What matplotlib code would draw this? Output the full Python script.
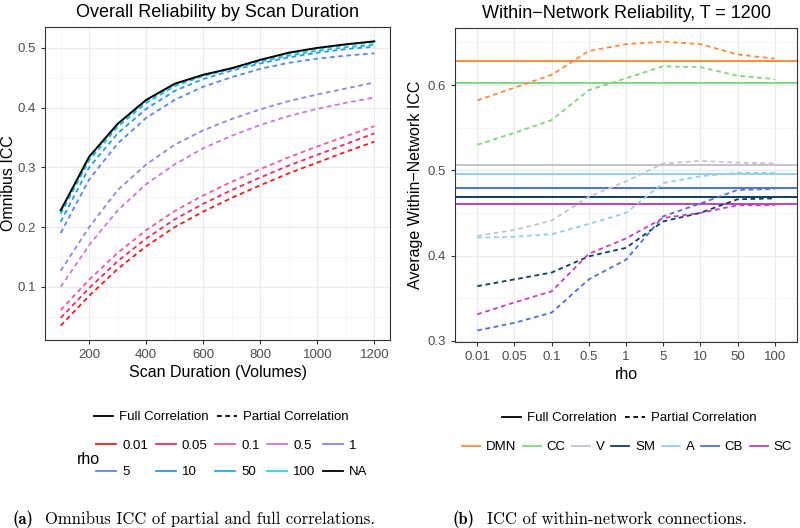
import matplotlib
matplotlib.use("Agg")
import matplotlib.pyplot as plt
from matplotlib.lines import Line2D
import numpy as np

plt.rcParams['font.family'] = ['Liberation Sans', 'DejaVu Sans']

# ---- left panel data: omnibus ICC by scan duration ----
volumes = [100, 200, 300, 400, 500, 600, 700, 800, 900, 1000, 1100, 1200]
rho_levels = ['0.01', '0.05', '0.1', '0.5', '1', '5', '10', '50', '100', 'NA']
rho_colors = ['#ee1c1c', '#ee2a5c', '#ee5a9e', '#cc77dd', '#9a80e6',
              '#5a86ee', '#2a95ee', '#1ab4dc', '#1cdcdc', '#000000']
icc_001 = [0.035, 0.085, 0.130, 0.168, 0.200, 0.226, 0.249, 0.270, 0.290, 0.308, 0.326, 0.343]
icc_005 = [0.048, 0.098, 0.143, 0.181, 0.213, 0.239, 0.262, 0.283, 0.303, 0.321, 0.339, 0.357]
icc_01 = [0.061, 0.112, 0.157, 0.195, 0.227, 0.253, 0.276, 0.297, 0.317, 0.335, 0.352, 0.369]
icc_05 = [0.100, 0.170, 0.228, 0.272, 0.305, 0.332, 0.353, 0.371, 0.386, 0.398, 0.408, 0.417]
icc_1 = [0.127, 0.200, 0.262, 0.305, 0.338, 0.362, 0.381, 0.397, 0.411, 0.422, 0.432, 0.442]
icc_5 = [0.190, 0.280, 0.340, 0.383, 0.413, 0.435, 0.451, 0.465, 0.475, 0.482, 0.487, 0.491]
icc_10 = [0.209, 0.300, 0.357, 0.398, 0.428, 0.448, 0.462, 0.474, 0.484, 0.492, 0.498, 0.502]
icc_50 = [0.222, 0.312, 0.368, 0.408, 0.436, 0.453, 0.465, 0.477, 0.487, 0.495, 0.501, 0.505]
icc_100 = [0.226, 0.316, 0.372, 0.411, 0.438, 0.454, 0.466, 0.479, 0.490, 0.498, 0.505, 0.509]
icc_full = [0.228, 0.318, 0.373, 0.413, 0.440, 0.455, 0.466, 0.480, 0.492, 0.500, 0.506, 0.511]
partial_series = [icc_001, icc_005, icc_01, icc_05, icc_1, icc_5, icc_10, icc_50, icc_100]

# ---- right panel data: within-network ICC, T = 1200 ----
rho_ticks = ['0.01', '0.05', '0.1', '0.5', '1', '5', '10', '50', '100']
networks = ['DMN', 'CC', 'V', 'SM', 'A', 'CB', 'SC']
net_colors = ['#ff8a3d', '#7fd67f', '#c9bfcf', '#0f3d66', '#8fd0f5', '#4d6fe0', '#c43fc0']
full_icc = [0.628, 0.602, 0.506, 0.469, 0.496, 0.479, 0.461]
dmn = [0.582, 0.597, 0.612, 0.640, 0.648, 0.651, 0.648, 0.636, 0.631]
cc = [0.530, 0.544, 0.559, 0.594, 0.608, 0.622, 0.621, 0.611, 0.607]
v = [0.423, 0.430, 0.441, 0.469, 0.487, 0.508, 0.511, 0.509, 0.508]
sm = [0.364, 0.372, 0.380, 0.399, 0.409, 0.440, 0.450, 0.466, 0.467]
a = [0.421, 0.422, 0.425, 0.437, 0.450, 0.485, 0.493, 0.497, 0.497]
cb = [0.312, 0.321, 0.333, 0.372, 0.395, 0.446, 0.461, 0.477, 0.478]
sc = [0.331, 0.345, 0.358, 0.402, 0.420, 0.444, 0.450, 0.459, 0.459]
net_partial = [dmn, cc, v, sm, a, cb, sc]

DASH = (0, (2.6, 2.0))
TICKCOL = '#4d4d4d'


def style_axes(ax):
    ax.set_facecolor('white')
    for s in ax.spines.values():
        s.set_color('#333333')
        s.set_linewidth(0.8)
    ax.tick_params(axis='both', colors='#333333', labelcolor=TICKCOL,
                   labelsize=9.5, length=3, width=0.8)
    ax.grid(which='major', color='#ebebeb', linewidth=0.9)
    ax.grid(which='minor', color='#f5f5f5', linewidth=0.6)
    ax.set_axisbelow(True)


fig = plt.figure(figsize=(8.0, 5.28), dpi=100)
W, H = 800.0, 528.0

# ---- left panel ----
ax1 = fig.add_axes([45 / W, 1 - 340 / H, 345 / W, 313 / H])
style_axes(ax1)
for vals, col in zip(partial_series, rho_colors[:9]):
    ax1.plot(volumes, vals, color=col, lw=1.3, linestyle=DASH)
ax1.plot(volumes, icc_full, color='black', lw=1.4)
ax1.set_xlim(45, 1255)
ax1.set_ylim(0.011, 0.535)
ax1.set_xticks([200, 400, 600, 800, 1000, 1200])
ax1.set_xticks([100, 300, 500, 700, 900, 1100], minor=True)
ax1.set_yticks([0.1, 0.2, 0.3, 0.4, 0.5])
ax1.set_yticks([0.05, 0.15, 0.25, 0.35, 0.45], minor=True)
ax1.tick_params(which='minor', length=0)
ax1.set_xlabel('Scan Duration (Volumes)', fontsize=11.5, labelpad=3)
ax1.set_ylabel('Omnibus ICC', fontsize=11.5, labelpad=1)
ax1.set_title('Overall Reliability by Scan Duration', fontsize=13, pad=7)

# ---- right panel ----
ax2 = fig.add_axes([455 / W, 1 - 342 / H, 342 / W, 314 / H])
style_axes(ax2)
xpos = np.arange(len(rho_ticks))
for hv, col in zip(full_icc, net_colors):
    ax2.axhline(hv, color=col, lw=1.4)
for vals, col in zip(net_partial, net_colors):
    ax2.plot(xpos, vals, color=col, lw=1.3, linestyle=DASH)
ax2.set_xlim(-0.6, 8.6)
ax2.set_ylim(0.2985, 0.667)
ax2.set_xticks(xpos)
ax2.set_xticklabels(rho_ticks)
ax2.set_yticks([0.3, 0.4, 0.5, 0.6])
ax2.set_yticks([0.35, 0.45, 0.55, 0.65], minor=True)
ax2.tick_params(which='minor', length=0)
ax2.set_xlabel('rho', fontsize=11.5, labelpad=3)
ax2.set_ylabel('Average Within\u2212Network ICC', fontsize=11.5, labelpad=3)
ax2.set_title('Within\u2212Network Reliability, T = 1200', fontsize=13, pad=7)

# ---- legends ----
lt_handles = [Line2D([], [], color='black', lw=1.3),
              Line2D([], [], color='black', lw=1.3, linestyle=DASH)]
lt_labels = ['Full Correlation', 'Partial Correlation']
leg_kw = dict(frameon=False, fontsize=9.5, handlelength=1.5,
              handletextpad=0.45, columnspacing=0.6, borderpad=0.0)

fig.legend(lt_handles, lt_labels, loc='center', ncol=2,
           bbox_to_anchor=(221 / W, 1 - 417 / H), **leg_kw)

# legend fills column by column, so interleave the two rows
rho_handles = [Line2D([], [], color=c, lw=1.3) for c in rho_colors]
order = [0, 5, 1, 6, 2, 7, 3, 8, 4, 9]
fig.legend([rho_handles[i] for i in order], [rho_levels[i] for i in order],
           loc='center', ncol=5, bbox_to_anchor=(232 / W, 1 - 459 / H),
           labelspacing=1.05, **leg_kw)
fig.text(88 / W, 1 - 459 / H, 'rho', fontsize=11.5, ha='center', va='center')

fig.legend(lt_handles, lt_labels, loc='center', ncol=2,
           bbox_to_anchor=(629 / W, 1 - 418 / H), **leg_kw)
net_handles = [Line2D([], [], color=c, lw=1.3) for c in net_colors]
net_kw = dict(leg_kw, handlelength=1.35, handletextpad=0.45, columnspacing=0.5)
fig.legend(net_handles, networks, loc='center', ncol=7,
           bbox_to_anchor=(627 / W, 1 - 447 / H), **net_kw)

# ---- captions ----
fig.text(13 / W, 1 - 519 / H, '(a)', fontsize=12, family='cmb10', va='center')
fig.text(45 / W, 1 - 519 / H, 'Omnibus ICC of partial and full correlations.',
         fontsize=12, family='cmr10', va='center')
fig.text(453 / W, 1 - 519 / H, '(b)', fontsize=12, family='cmb10', va='center')
fig.text(487 / W, 1 - 519 / H, 'ICC of within-network connections.',
         fontsize=12, family='cmr10', va='center')

fig.savefig('out.png', dpi=100, facecolor='white')
